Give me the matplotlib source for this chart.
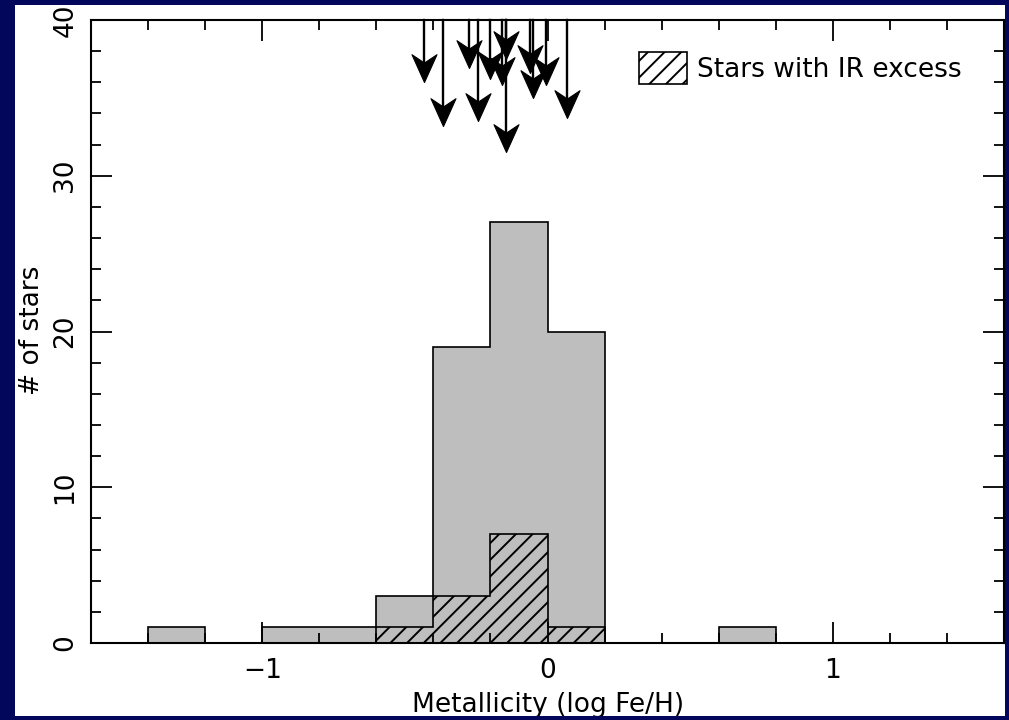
import numpy as np
import matplotlib
matplotlib.use('Agg')
from matplotlib import pyplot as plt
from matplotlib.path import Path
from matplotlib.patches import Rectangle
from matplotlib.ticker import MultipleLocator

plt.rcParams.update({'font.size': 19, 'font.family': 'DejaVu Sans',
                     'hatch.linewidth': 1.4})

# histogram of metallicity, bins of 0.2 dex
bin_edges = np.round(np.arange(-1.6, 1.61, 0.2), 2)
all_counts = [0, 1, 0, 1, 1, 3, 19, 27, 20, 0, 0, 1, 0, 0, 0, 0]
ir_counts = [0, 0, 0, 0, 0, 1, 3, 7, 1, 0, 0, 0, 0, 0, 0, 0]

# upper limits shown as arrows from the top of the plot
arrow_x = [-0.432, -0.367, -0.276, -0.245, -0.200, -0.159, -0.147,
           -0.147, -0.060, -0.050, -0.005, 0.070]
arrow_tip = [36.0, 33.2, 36.9, 33.5, 36.2, 35.8, 31.5,
             37.5, 36.6, 35.0, 35.8, 33.7]

W, H = 1009, 720
fig = plt.figure(figsize=(W / 100, H / 100), dpi=100, facecolor='white')
ax = fig.add_axes([91 / W, 1 - 643 / H, (1004 - 91) / W, (643 - 20) / H])

ax.stairs(all_counts, bin_edges, fill=True, facecolor='#bebebe',
          edgecolor='none', zorder=1)
ax.stairs(all_counts, bin_edges, color='black', linewidth=1.2, zorder=3)
ax.stairs(ir_counts, bin_edges, fill=True, facecolor='none', hatch='//',
          edgecolor='black', linewidth=1.2, zorder=2,
          label='Stars with IR excess')

# notched arrow head, tip at origin
head = Path([(0, 0), (-0.45, 1.0), (0, 0.7), (0.45, 1.0), (0, 0)],
            [Path.MOVETO, Path.LINETO, Path.LINETO, Path.LINETO,
             Path.CLOSEPOLY])
for x, tip in zip(arrow_x, arrow_tip):
    ax.plot([x, x], [40, tip + 0.8], color='black', lw=1.7, zorder=4,
            clip_on=False)
    ax.plot([x], [tip], marker=head, markersize=40, color='black',
            markeredgewidth=0.8, zorder=4, clip_on=False)

ax.set_xlim(-1.6, 1.6)
ax.set_ylim(0, 40)
ax.xaxis.set_major_locator(MultipleLocator(1))
ax.xaxis.set_minor_locator(MultipleLocator(0.2))
ax.yaxis.set_major_locator(MultipleLocator(10))
ax.yaxis.set_minor_locator(MultipleLocator(2))
ax.set_xticks([-1, 0, 1])
ax.set_xticklabels(['\u22121', '0', '1'])
ax.tick_params(which='both', direction='in', top=True, right=True,
               width=1.3, color='black')
ax.tick_params(which='major', length=15, pad=11)
ax.tick_params(which='minor', length=7)
ax.tick_params(axis='y', which='major', labelrotation=90, pad=9)
for lbl in ax.get_yticklabels():
    lbl.set_verticalalignment('center')
for sp in ax.spines.values():
    sp.set_linewidth(1.5)
    sp.set_zorder(5)

fig.text(548 / W, 1 - 705 / H, 'Metallicity (log Fe/H)', ha='center',
         va='center')
fig.text(32 / W, 1 - 330 / H, '# of stars', ha='center', va='center',
         rotation=90)

leg = ax.legend(loc='upper left', bbox_to_anchor=(639 / W, 1 - 52 / H),
                bbox_transform=fig.transFigure, frameon=False, borderpad=0,
                borderaxespad=0, handlelength=1.8, handleheight=1.5,
                handletextpad=0.4)

# slide background border
navy = '#02075c'
for (x0, y0, w, h) in [(0, 0, 15, H), (1005, 0, 4, H), (0, 0, W, 5), (0, 716, W, 4)]:
    fig.patches.append(Rectangle((x0 / W, 1 - (y0 + h) / H), w / W, h / H,
                                 transform=fig.transFigure, facecolor=navy,
                                 edgecolor='none', zorder=10))

fig.savefig('out.png', dpi=100)
